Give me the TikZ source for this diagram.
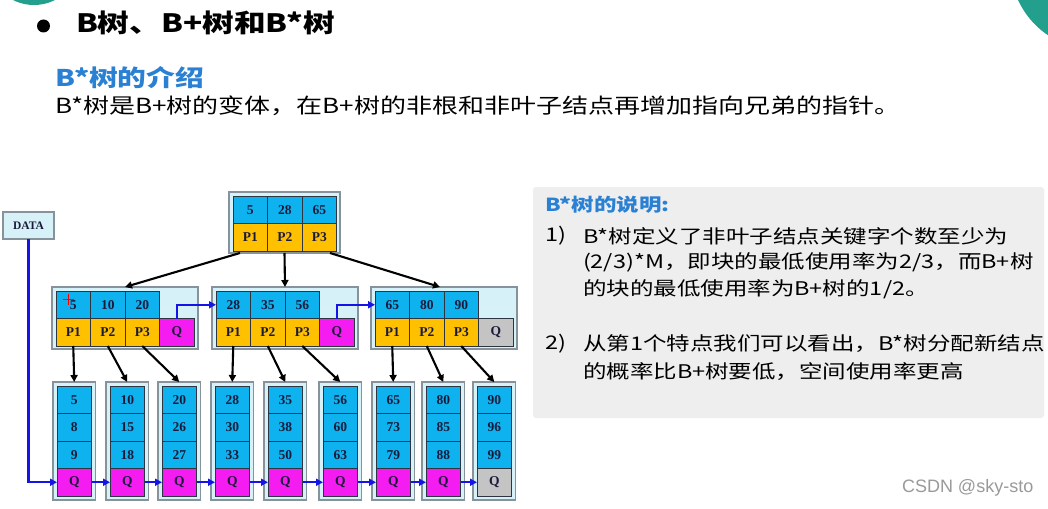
\documentclass[tikz,border=0pt]{standalone}
\usepackage{fontspec}
\setmainfont{Liberation Serif}
\newfontfamily\cjk{Noto Sans CJK SC}[FakeStretch=1.25]
\newfontfamily\wm{Liberation Sans}
\usetikzlibrary{arrows.meta,calc}
\definecolor{cblue}{HTML}{0DB2EE}
\definecolor{cyellow}{HTML}{FFC000}
\definecolor{cmag}{HTML}{F51CF2}
\definecolor{cgray}{HTML}{C4C4C4}
\definecolor{boxfill}{HTML}{D6F1F8}
\definecolor{boxline}{HTML}{86939A}
\definecolor{cellline}{HTML}{2E3440}
\definecolor{celltext}{HTML}{1A1A3A}
\definecolor{linkblue}{HTML}{1414E6}
\definecolor{headblue}{HTML}{2A80D2}
\definecolor{panelgray}{HTML}{EEEEEE}
\definecolor{teal}{HTML}{23A08D}
\definecolor{wmgray}{HTML}{9A9A9A}
\begin{document}
\begin{tikzpicture}[x=1pt,y=-1pt,
  cell/.style={draw=cellline, line width=0.9pt, inner sep=0pt, outer sep=0pt,
    minimum width=34.5pt, minimum height=27.5pt, anchor=north west,
    font=\fontsize{13.5}{13.5}\selectfont\bfseries, text=celltext},
  kb/.style={cell, fill=cblue},
  py/.style={cell, fill=cyellow},
  outerbox/.style={draw=boxline, fill=boxfill, line width=1.5pt, inner sep=0pt,
    outer sep=0pt, anchor=north west},
  tarrow/.style={draw=black, line width=2.1pt, -{Triangle[length=7pt,width=7pt]}},
  barrow/.style={draw=linkblue, line width=2.1pt, -{Triangle[length=7pt,width=7pt]}},
  txt/.style={anchor=west, inner sep=0pt, outer sep=0pt},
]
\useasboundingbox (0,0) rectangle (1048,508);
\fill[white] (0,0) rectangle (1048,508);
% decorative corner circles
\fill[teal] (34,-41.6) circle[radius=46.6pt];
\fill[teal] (1095,-35) circle[radius=84.5pt];

% heading
\fill[black] (43.5,26) circle[radius=6.5pt];
\node[txt, font=\cjk\bfseries\fontsize{25.3}{25.3}\selectfont] (title) at (76,23) {B树、B+树和B*树};
\node[txt, text=headblue, font=\cjk\bfseries\fontsize{23}{23}\selectfont] (intro) at (55,78) {B*树的介绍};
\node[txt, font=\cjk\fontsize{20.8}{20.8}\selectfont] (sub) at (55,106) {B*树是B+树的变体，在B+树的非根和非叶子结点再增加指向兄弟的指针。};

% right panel
\fill[panelgray, rounded corners=3pt] (533,187) rectangle (1044,418);
\node[txt, text=headblue, font=\cjk\bfseries\fontsize{18}{18}\selectfont] (ph) at (545,205) {B*树的说明:};
\begin{scope}[every node/.style={txt, font=\cjk\fontsize{18.8}{18.8}\selectfont}]
\node (n1) at (545,236) {1)};
\node (t11) at (583,236) {B*树定义了非叶子结点关键字个数至少为};
\node (t12) at (583,262) {(2/3)*M，即块的最低使用率为2/3，而B+树};
\node (t13) at (583,289) {的块的最低使用率为B+树的1/2。};
\node (n2) at (545,344) {2)};
\node (t21) at (583,344) {从第1个特点我们可以看出，B*树分配新结点};
\node (t22) at (583,372) {的概率比B+树要低，空间使用率更高};
\end{scope}

% DATA box
\node[outerbox, minimum width=51pt, minimum height=27pt,
  font=\fontsize{11.5}{11.5}\selectfont\bfseries, text=celltext] (data) at (3,212) {DATA};

% root
\node[outerbox, minimum width=111pt, minimum height=61pt] (root) at (229,192) {};
\node[kb] (r-k1) at (233,196) {5};
\node[kb] (r-k2) at (267.5,196) {28};
\node[kb] (r-k3) at (302,196) {65};
\node[py] (r-p1) at (233,223.5) {P1};
\node[py] (r-p2) at (267.5,223.5) {P2};
\node[py] (r-p3) at (302,223.5) {P3};

% middle level
\foreach \m/\x/\a/\b/\c/\qc in {1/56/5/10/20/cmag, 2/216/28/35/56/cmag, 3/375/65/80/90/cgray} {
  \node[outerbox, minimum width=146pt, minimum height=62pt] (m\m) at (\x-4,287) {};
  \node[kb] (m\m-k1) at (\x,291) {\a};
  \node[kb] (m\m-k2) at (\x+34.5,291) {\b};
  \node[kb] (m\m-k3) at (\x+69,291) {\c};
  \node[py] (m\m-p1) at (\x,318.5) {P1};
  \node[py] (m\m-p2) at (\x+34.5,318.5) {P2};
  \node[py] (m\m-p3) at (\x+69,318.5) {P3};
  \node[cell, fill=\qc] (m\m-q) at (\x+103.5,318.5) {Q};
}

% leaves
\foreach \i/\x/\a/\b/\c/\qc in {1/57/5/8/9/cmag, 2/110/10/15/18/cmag, 3/162/20/26/27/cmag,
  4/215/28/30/33/cmag, 5/268/35/38/50/cmag, 6/323/56/60/63/cmag, 7/376/65/73/79/cmag,
  8/426/80/85/88/cmag, 9/477/90/96/99/cgray} {
  \node[outerbox, minimum width=42.5pt, minimum height=118pt] (l\i) at (\x-4,382) {};
  \node[kb] (l\i-a) at (\x,386) {\a};
  \node[kb] (l\i-b) at (\x,413.5) {\b};
  \node[kb] (l\i-c) at (\x,441) {\c};
  \node[cell, fill=\qc] (l\i-q) at (\x,468.5) {Q};
}

% cursor mark
\draw[red, line width=1.8pt] (63,299.5) -- (74,299.5) (68.5,294) -- (68.5,305);

% root to middle
\draw[tarrow] ([xshift=-44.5pt]root.south) -- (m1.north);
\draw[tarrow] (root.south) -- (m2.north);
\draw[tarrow] ([xshift=45.5pt]root.south) -- ([xshift=-4pt]m3.north);

% middle to leaves
\draw[tarrow] (m1-p1.south) -- (l1.north);
\draw[tarrow] (m1-p2.south) -- (l2.north);
\draw[tarrow] (m1-p3.south) -- (l3.north);
\draw[tarrow] (m2-p1.south) -- (l4.north);
\draw[tarrow] (m2-p2.south) -- (l5.north);
\draw[tarrow] (m2-p3.south) -- (l6.north);
\draw[tarrow] (m3-p1.south) -- (l7.north);
\draw[tarrow] (m3-p2.south) -- (l8.north);
\draw[tarrow] (m3-p3.south) -- (l9.north);

% sibling links
\draw[barrow] (m1-q.north) |- (m2-k1.west);
\draw[barrow] (m2-q.north) |- (m3-k1.west);
\foreach \i [evaluate=\i as \j using int(\i+1)] in {1,...,8} {
  \draw[barrow] (l\i-q.east) -- (l\j-q.west);
}
\draw[barrow] (data.south) |- (l1-q.west);

% watermark
\node[txt, text=wmgray, font=\wm\fontsize{18}{18}\selectfont] (wm) at (902,488) {CSDN @sky-sto};
\end{tikzpicture}
\end{document}
